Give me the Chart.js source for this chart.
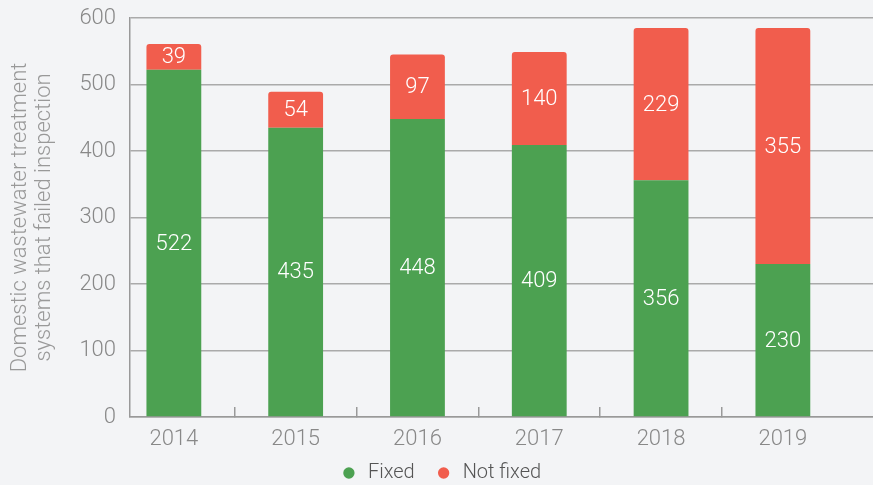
<!DOCTYPE html>
<html>
<head>
<meta charset="utf-8">
<script src="https://cdn.jsdelivr.net/npm/chart.js@4/dist/chart.umd.min.js"></script>
<style>
  html, body { margin: 0; padding: 0; background: #f3f4f6; }
  #wrap { width: 873px; height: 485px; }
</style>
</head>
<body>
<div id="wrap"><canvas id="failChart" width="873" height="485"></canvas></div>
<script>
// Datos
const years = ['2014', '2015', '2016', '2017', '2018', '2019'];
const fixed = [522, 435, 448, 409, 356, 230];
const notFixed = [39, 54, 97, 140, 229, 355];
const yTicks = [0, 100, 200, 300, 400, 500, 600];

const green = '#4ca151';
const red = '#f15d4d';

// Etiquetas blancas dentro de las barras
const barLabels = {
    id: 'barLabels',
    afterLayout(chart) {
        // que las etiquetas del eje x no se recorten
        chart.scales.x.bottom = chart.height;
    },
    afterDatasetsDraw(chart) {
        const ctx = chart.ctx;
        ctx.save();
        ctx.fillStyle = '#ffffff';
        ctx.font = '300 22px Roboto';
        ctx.textAlign = 'center';
        ctx.textBaseline = 'middle';
        chart.data.datasets.forEach((ds, i) => {
            chart.getDatasetMeta(i).data.forEach((bar, j) => {
                const p = bar.getProps(['x', 'y', 'base'], true);
                ctx.fillText(ds.data[j], p.x, (p.y + p.base) / 2 + 1);
            });
        });
        ctx.restore();
    }
};

Chart.defaults.font.family = 'Roboto';
Chart.defaults.font.weight = 300;

new Chart(document.getElementById('failChart').getContext('2d'), {
    type: 'bar',
    data: {
        labels: years,
        datasets: [{
            label: 'Fixed',
            data: fixed,
            backgroundColor: green,
            barPercentage: 0.45,
            categoryPercentage: 1
        }, {
            label: 'Not fixed',
            data: notFixed,
            backgroundColor: red,
            borderRadius: { topLeft: 3, topRight: 3 },
            borderSkipped: 'bottom',
            barPercentage: 0.45,
            categoryPercentage: 1
        }]
    },
    options: {
        responsive: false,
        animation: false,
        layout: { padding: { top: 18, right: 0, bottom: -8, left: 8 } },
        plugins: {
            legend: {
                position: 'bottom',
                labels: {
                    usePointStyle: true,
                    pointStyle: 'circle',
                    boxWidth: 18,
                    boxHeight: 8,
                    padding: 20,
                    color: '#555',
                    font: { size: 20, weight: 300 }
                }
            },
            tooltip: { enabled: false }
        },
        scales: {
            x: {
                stacked: true,
                offset: false,
                // las categorias empiezan un poco a la izquierda del eje y
                afterBuildTicks: scale => { scale._startValue = -0.36; scale._valueRange = 6.1; },
                grid: {
                    offset: true,
                    drawOnChartArea: false,
                    tickLength: -10,
                    color: c => (c.index > 0 && c.index < years.length) ? '#999' : 'rgba(0,0,0,0)',
                    lineWidth: 1.5
                },
                border: { color: '#999', width: 1.5 },
                ticks: { color: '#888', font: { size: 22, weight: 300 }, padding: 19 },
                afterFit: scale => { scale.height = 26; }
            },
            y: {
                stacked: true,
                min: 0,
                max: 600,
                afterBuildTicks: axis => { axis.ticks = yTicks.map(v => ({ value: v })); },
                afterFit: scale => { scale.paddingTop = 0; scale.paddingBottom = 0; },
                grid: { color: '#aaa', lineWidth: 1.5, drawTicks: false },
                border: { color: '#999', width: 1.5 },
                ticks: { color: '#888', font: { size: 22, weight: 300 }, padding: 14 },
                title: {
                    display: true,
                    text: ['Domestic wastewater treatment', 'systems that failed inspection'],
                    color: '#999',
                    font: { size: 22, weight: 300, lineHeight: 1.1 },
                    padding: { top: 0, bottom: 9 }
                }
            }
        }
    },
    plugins: [barLabels]
});
</script>
</body>
</html>
